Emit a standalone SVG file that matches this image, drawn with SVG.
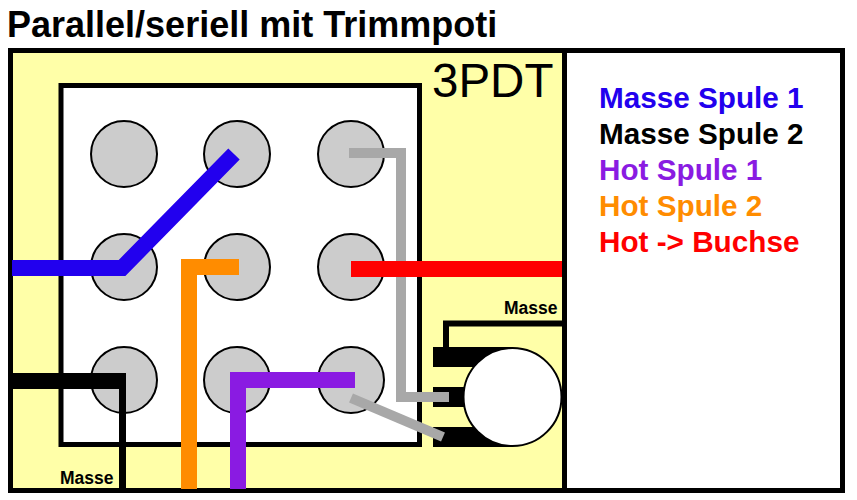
<svg xmlns="http://www.w3.org/2000/svg" width="857" height="500" viewBox="0 0 857 500">
<style>
text{font-family:"Liberation Sans",Arial,sans-serif;font-weight:bold;fill:#000}
.pin{fill:#ccc;stroke:#000;stroke-width:2}
.w{fill:none;stroke-linejoin:miter;stroke-linecap:butt}
.leg{font-size:29.700px}
.m{font-size:17.500px}
</style>
<rect width="857" height="500" fill="#fff"/>
<text x="7" y="37" font-size="36" id="title">Parallel/seriell mit Trimmpoti</text>
<g id="frame">
<rect x="10.500" y="50.500" width="554" height="440" fill="#ffffa8" stroke="#000" stroke-width="5"/>
<rect x="564.500" y="50.500" width="278" height="440" fill="#fff" stroke="#000" stroke-width="5"/>
</g>
<g id="switch">
<rect x="61" y="85.500" width="358.500" height="359" fill="#fff" stroke="#000" stroke-width="5"/>
<text x="432" y="97" font-size="47.500" style="font-weight:normal">3PDT</text>
</g>
<g id="pins">
<circle id="p11" class="pin" cx="124" cy="154" r="33"/>
<circle id="p12" class="pin" cx="237" cy="154" r="33"/>
<circle id="p13" class="pin" cx="351" cy="154" r="33"/>
<circle id="p21" class="pin" cx="124" cy="267" r="33"/>
<circle id="p22" class="pin" cx="237" cy="267" r="33"/>
<circle id="p23" class="pin" cx="351" cy="267" r="33"/>
<circle id="p31" class="pin" cx="124" cy="380" r="33"/>
<circle id="p32" class="pin" cx="237" cy="380" r="33"/>
<circle id="p33" class="pin" cx="351" cy="380" r="33"/>
</g>
<g id="pot">
<rect x="433" y="347" width="80" height="20" fill="#000"/>
<rect x="433" y="387" width="80" height="20" fill="#000"/>
<rect x="433" y="427" width="80" height="20" fill="#000"/>
<circle cx="512.500" cy="397" r="49" fill="#fff" stroke="#000" stroke-width="2"/>
</g>
<g id="connectors">
<path class="w" d="M446 347V323.500H562" stroke="#000" stroke-width="6"/>
<path class="w" d="M349 153H401V397H449" stroke="#a8a8a8" stroke-width="10"/>
<path class="w" d="M351 398L443 437" stroke="#a8a8a8" stroke-width="10"/>
<path class="w" d="M12 268H122L234 154" stroke="#2200ee" stroke-width="16"/>
<path class="w" d="M189 489V267H239" stroke="#ff8c00" stroke-width="16"/>
<path class="w" d="M238 489V380H355" stroke="#8a1be2" stroke-width="16"/>
<path class="w" d="M351 269H562" stroke="#ff0000" stroke-width="16"/>
<path class="w" d="M12 381H126" stroke="#000" stroke-width="16"/>
<path class="w" d="M122.500 381V489" stroke="#000" stroke-width="7"/>
</g>
<text class="m" x="504" y="314">Masse</text>
<text class="m" x="60" y="484">Masse</text>
<g id="legend">
<text class="leg" x="599" y="108" style="fill:#2200ee">Masse Spule 1</text>
<text class="leg" x="599" y="144">Masse Spule 2</text>
<text class="leg" x="599" y="180" style="fill:#8a1be2">Hot Spule 1</text>
<text class="leg" x="599" y="216" style="fill:#ff8c00">Hot Spule 2</text>
<text class="leg" x="599" y="252" style="fill:#ff0000">Hot -&gt; Buchse</text>
</g>
</svg>
